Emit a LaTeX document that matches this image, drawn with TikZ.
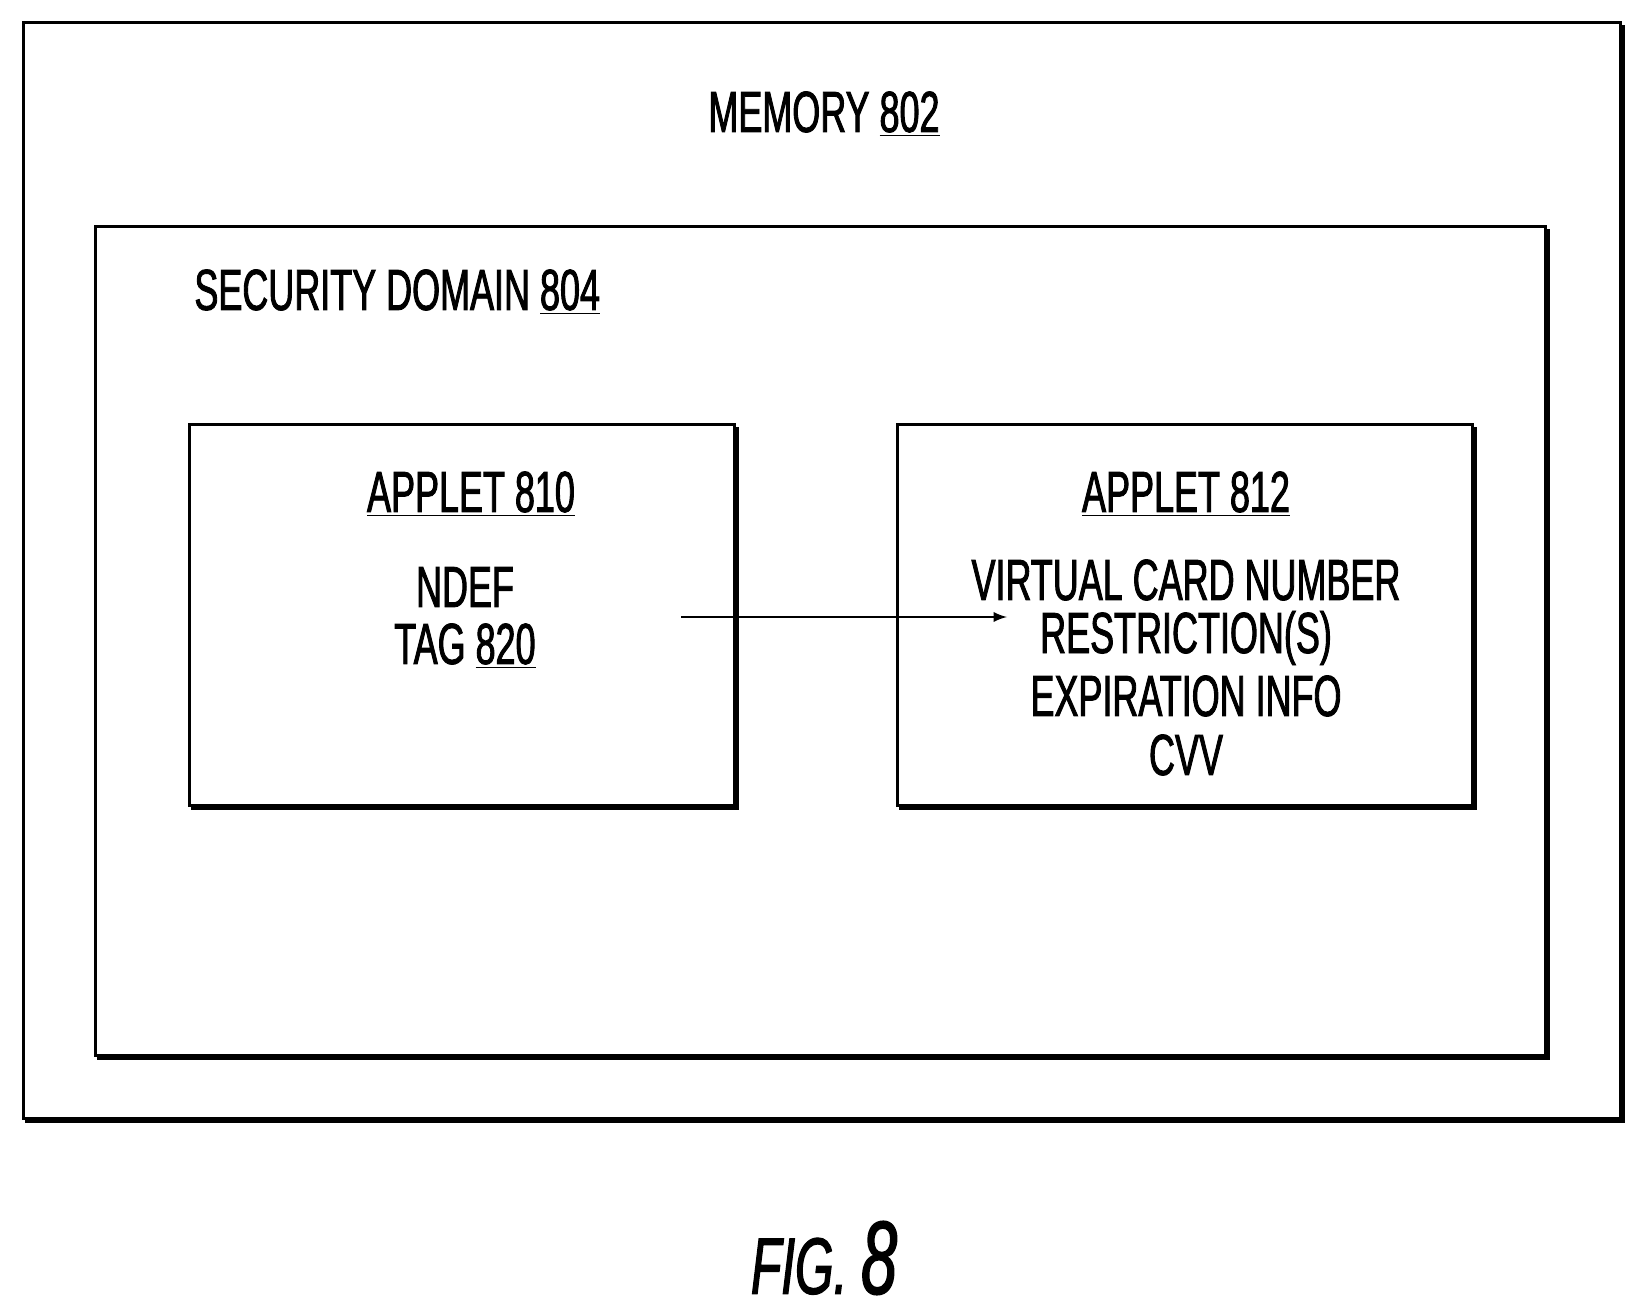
\documentclass[tikz,border=0pt]{standalone}
\usepackage{fontspec}
\newfontfamily\figfont[FakeStretch=0.62,FakeBold=1.5]{Liberation Sans}
\usetikzlibrary{positioning}
\tikzset{
  box/.style={draw, line width=1.5pt, fill=white,
    preaction={draw, line width=1.5pt, transform canvas={shift={(1.6pt,-1.6pt)}}}},
  txt/.style={font=\figfont\fontsize{29}{31}\selectfont, inner sep=0pt}
}
\begin{document}
\begin{tikzpicture}[x=0.5pt,y=-0.5pt]
  \useasboundingbox[fill=white] (0,0) rectangle (1640,1316);
  % boxes
  \draw[box] (23,23) rectangle (1620,1118);
  \draw[box] (95,227) rectangle (1545,1055);
  \draw[box] (189,425) rectangle (734,805);
  \draw[box] (897,425) rectangle (1472,805);
  % labels
  \node[txt] (mem) at (824,114) {MEMORY \underline{802}};
  \node[txt, anchor=west] (sec) at (194,292) {SECURITY DOMAIN \underline{804}};
  \node[txt] (app810) at (471,494) {\underline{APPLET 810}};
  \node[txt] (ndef) at (465,587) {NDEF};
  \node[txt] (tag) at (465,646) {TAG \underline{820}};
  \node[txt] (app812) at (1186,494) {\underline{APPLET 812}};
  \node[txt] (vcn) at (1186,580) {VIRTUAL CARD NUMBER};
  \node[txt] (res) at (1186,638) {RESTRICTION(S)};
  \node[txt] (exp) at (1186,696) {EXPIRATION INFO};
  \node[txt] (cvv) at (1186,755) {CVV};
  \node[txt, font=\figfont\fontsize{40}{44}\selectfont\itshape] (fig) at (824,1258) {FIG. {\fontsize{52}{56}\selectfont 8}};
  % connector
  \coordinate (start) at (681,617);
  \coordinate (end) at (1007,617);
  \draw[line width=1.3pt, -latex] (start) -- (end);
\end{tikzpicture}
\end{document}
